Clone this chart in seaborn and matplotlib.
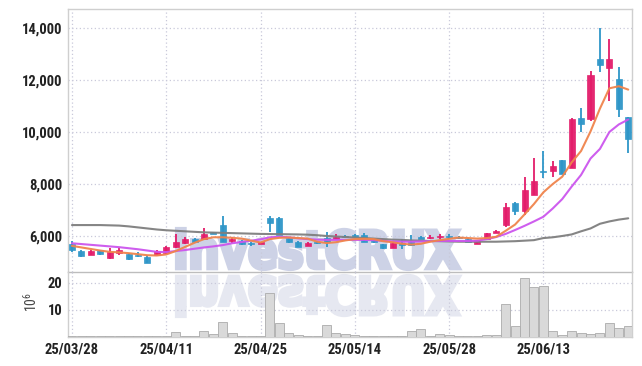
import numpy as np
import pandas as pd
import seaborn as sns
import matplotlib
matplotlib.use('Agg')
import matplotlib.pyplot as plt
from matplotlib.textpath import TextPath
from matplotlib.patches import PathPatch
from matplotlib.font_manager import FontProperties, fontManager
from matplotlib.transforms import Affine2D, IdentityTransform

# --- DATA ---
opens = [5700, 5420, 5270, 5450, 5140, 5350, 5310, 5245, 5190, 5270,
         5335, 5565, 5745, 5885, 5885, 6140, 6420, 5820, 5810, 5745,
         5700, 6705, 6705, 5910, 5780, 5630, 5780, 5910, 5885, 5990,
         6040, 6040, 5880, 5680, 5550, 5720, 5780, 5970, 5930, 5950,
         6000, 5950, 5900, 5690, 5870, 6130, 6420, 7255, 6975, 7580,
         8470, 8510, 8920, 8630, 10550, 10500, 12790, 12450, 12040, 10575]
highs = [5800, 5450, 5480, 5470, 5540, 5540, 5330, 5400, 5270, 5450,
         5610, 6077, 5960, 5920, 6295, 6170, 6770, 5970, 5830, 5760,
         5760, 6780, 6720, 5930, 5800, 5770, 5800, 6165, 6080, 6030,
         6060, 6110, 5900, 5700, 5760, 5900, 6050, 6000, 6040, 6070,
         6060, 5990, 5910, 5860, 6130, 6220, 7255, 7300, 8260, 8990,
         9270, 8885, 8920, 10550, 10910, 12350, 14010, 13565, 12515, 10575]
lows = [5400, 5200, 5250, 5270, 5115, 5250, 5080, 5200, 4960, 5250,
        5300, 5540, 5700, 5760, 5860, 6060, 5760, 5720, 5670, 5600,
        5690, 6165, 6020, 5740, 5570, 5610, 5700, 5590, 5860, 5930,
        5960, 5760, 5730, 5510, 5530, 5490, 5620, 5880, 5900, 5900,
        5880, 5880, 5760, 5680, 5850, 6110, 6360, 6810, 6810, 7560,
        8245, 8280, 8380, 8600, 9990, 10420, 12300, 11200, 10590, 9180]
closes = [5480, 5230, 5420, 5320, 5400, 5460, 5100, 5230, 4970, 5420,
          5565, 5780, 5885, 5780, 6077, 6090, 5780, 5835, 5690, 5680,
          5730, 6490, 6040, 5760, 5590, 5745, 5720, 5780, 5950, 5960,
          5975, 5780, 5750, 5530, 5745, 5650, 5650, 5900, 5975, 6000,
          5960, 5930, 5770, 5850, 6100, 6190, 7100, 6975, 7770, 8125,
          8450, 8690, 8385, 10500, 10320, 12190, 12560, 12790, 10885, 9730]
ma_short = [5620, 5560, 5500, 5440, 5390, 5370, 5340, 5300, 5260, 5250,
            5290, 5420, 5580, 5740, 5880, 5950, 5950, 5930, 5900, 5820,
            5750, 5880, 5930, 5940, 5920, 5900, 5780, 5730, 5760, 5830,
            5880, 5890, 5880, 5800, 5760, 5700, 5670, 5700, 5780, 5840,
            5890, 5940, 5920, 5900, 5920, 5970, 6200, 6440, 6830, 7230,
            7680, 8000, 8280, 8830, 9270, 10020, 10900, 11680, 11760, 11630]
ma_mid = [5720, 5690, 5660, 5630, 5600, 5570, 5530, 5490, 5440, 5390,
          5380, 5420, 5460, 5510, 5560, 5600, 5650, 5720, 5770, 5820,
          5870, 5950, 5970, 5950, 5910, 5880, 5860, 5850, 5850, 5850,
          5850, 5850, 5840, 5810, 5790, 5780, 5780, 5790, 5800, 5810,
          5810, 5810, 5810, 5820, 5880, 5960, 6080, 6230, 6390, 6560,
          6740, 7060, 7420, 7900, 8350, 8980, 9350, 10000, 10290, 10480]
ma_long = [6420, 6420, 6420, 6420, 6410, 6400, 6370, 6330, 6290, 6250,
           6220, 6200, 6180, 6160, 6140, 6130, 6120, 6110, 6100, 6090,
           6080, 6075, 6070, 6065, 6060, 6050, 6030, 6000, 5980, 5960,
           5940, 5920, 5900, 5880, 5860, 5850, 5830, 5820, 5810, 5800,
           5790, 5780, 5780, 5780, 5780, 5780, 5790, 5800, 5820, 5840,
           5920, 5950, 6000, 6060, 6180, 6290, 6470, 6560, 6630, 6680]
volume = [0.4, 0.3, 0.5, 0.3, 0.4, 0.3, 0.4, 0.3, 0.3, 0.4,
          0.5, 2.0, 0.5, 0.5, 2.4, 1.0, 5.7, 1.4, 0.4, 0.3,
          0.3, 16.2, 5.1, 1.4, 0.9, 0.4, 0.4, 4.6, 1.6, 1.0,
          0.6, 0.4, 0.3, 0.3, 0.3, 0.2, 2.4, 2.8, 0.5, 1.1,
          0.7, 0.4, 0.3, 0.2, 0.8, 0.8, 12.2, 4.1, 21.7, 18.4,
          18.9, 2.1, 0.8, 2.4, 1.6, 1.1, 1.6, 5.3, 3.2, 3.9]
tick_pos = [0, 10, 20, 30, 40, 50]
tick_labels = ['25/03/28', '25/04/11', '25/04/25', '25/05/14', '25/05/28', '25/06/13']
price_ticks = [6000, 8000, 10000, 12000, 14000]
vol_ticks = [10, 20]

UP = '#e31c6a'
DOWN = '#2e96c8'
GRID = '#c9c9da'
TXT = '#222222'

sns.set_theme(style='white')
names = {f.name for f in fontManager.ttflist}
narrow = 'DejaVu Sans'
for cand in ['Roboto Condensed', 'Liberation Sans Narrow', 'Open Sans Condensed',
             'DejaVu Sans Condensed', 'Roboto']:
    if cand in names:
        narrow = cand
        break
plt.rcParams['font.family'] = [narrow, 'DejaVu Sans']

W, H = 642, 366
fig = plt.figure(figsize=(W / 100, H / 100), dpi=100)
fig.patch.set_facecolor('white')

L, R = 68 / W, 632 / W
ax = fig.add_axes([L, 1 - 272 / H, R - L, (272 - 9) / H])
axv = fig.add_axes([L, 1 - 337 / H, R - L, (337 - 272) / H], sharex=ax)
for a in (ax, axv):
    a.set_facecolor('none')
    a.set_axisbelow(True)
    a.grid(True, color=GRID, linestyle=(0, (1, 2)), linewidth=0.9)
    for s in a.spines.values():
        s.set_color('#cfcfcf')
        s.set_linewidth(1.0)
    a.tick_params(length=0, colors=TXT)

# --- watermark (text + mirrored reflection) ---
wfont = FontProperties(family=['DejaVu Sans'], weight='bold')
tp = TextPath((0, 0), 'investCRUX', size=100, prop=wfont)
ext = tp.get_extents()
sx = 282 / ext.width
sy = 40 / ext.height
base = H - 272
top_tr = Affine2D().translate(-ext.x0, -ext.y0).scale(sx, sy).translate(177, base + 3)
bot_tr = Affine2D().translate(-ext.x0, -ext.y0).scale(sx, -sy).translate(177, base - 4)
fig.add_artist(PathPatch(tp, transform=top_tr + IdentityTransform(),
                         facecolor='#cdd2e6', edgecolor='#cdd2e6', linewidth=3, zorder=-1))
fig.add_artist(PathPatch(tp, transform=bot_tr + IdentityTransform(),
                         facecolor='#e6e8f1', edgecolor='#e6e8f1', linewidth=3, zorder=-1))

# --- candles ---
x = np.arange(len(opens))
o = np.array(opens, dtype=float)
c = np.array(closes, dtype=float)
cols = [UP if cc >= oo else DOWN for oo, cc in zip(o, c)]
ax.vlines(x, lows, highs, colors=cols, linewidth=1.3, zorder=4)
body = np.maximum(np.abs(c - o), 50)
ax.bar(x, body, bottom=np.minimum(o, c), width=0.64, color=cols,
       edgecolor=cols, linewidth=0.5, zorder=5, alpha=0.95)

# --- moving averages ---
ma = pd.DataFrame({'idx': x, 'long': ma_long, 'mid': ma_mid, 'short': ma_short})
ma = ma.melt(id_vars='idx', var_name='line', value_name='price')
sns.lineplot(data=ma, x='idx', y='price', hue='line',
             palette={'long': '#7f7f7f', 'mid': '#cc55ee', 'short': '#f0844c'},
             hue_order=['long', 'mid', 'short'], linewidth=1.5, legend=False,
             ax=ax, zorder=6, alpha=0.95)

ax.set_xlim(-0.42, 59.4)
ax.set_ylim(4615, 14730)
ax.set_yticks(price_ticks)
ax.set_yticklabels([f'{v:,}' for v in price_ticks], fontsize=10.5, fontweight='bold')
ax.set_xticks(tick_pos)
ax.tick_params(axis='x', labelbottom=False)
ax.tick_params(axis='y', pad=4)
ax.set_xlabel('')
ax.set_ylabel('')
ax.spines['bottom'].set_color('#bdbdbd')

# --- volume ---
sns.barplot(x=x, y=volume, native_scale=True, color='#d9d9d9', saturation=1,
            edgecolor='#ababab', linewidth=0.6, width=0.95, ax=axv, zorder=3)
axv.set_ylim(0, 24)
axv.set_yticks(vol_ticks)
axv.set_yticklabels([str(v) for v in vol_ticks], fontsize=10.5, fontweight='bold')
axv.set_xticks(tick_pos)
axv.set_xticklabels(tick_labels, fontsize=10.5, fontweight='bold')
axv.set_xlim(-0.42, 59.4)
axv.tick_params(axis='y', pad=4)
axv.tick_params(axis='x', pad=4)
axv.spines['top'].set_visible(False)
axv.set_xlabel('')
axv.set_ylabel('')
fig.text(31 / W, 1 - 302 / H, r'$\mathregular{10^6}$', rotation=90, ha='center',
         va='center', fontsize=10, color='#444444')

fig.savefig('out.png', dpi=100)
